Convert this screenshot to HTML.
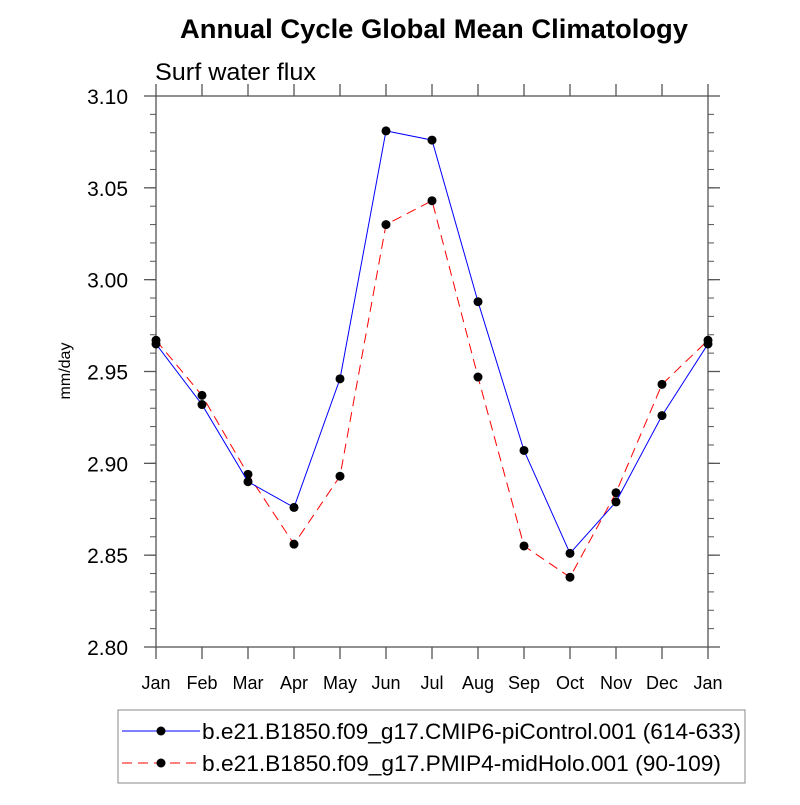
<!DOCTYPE html>
<html><head><meta charset="utf-8"><style>
html,body{margin:0;padding:0;background:#fff}
svg text{font-family:"Liberation Sans",Arial,sans-serif}
</style></head><body>
<svg id="chart" width="800" height="800" viewBox="0 0 800 800" xmlns="http://www.w3.org/2000/svg">
<text x="434" y="38" text-anchor="middle" font-size="27" font-weight="bold" textLength="508" lengthAdjust="spacingAndGlyphs">Annual Cycle Global Mean Climatology</text>
<text x="155" y="80" font-size="24" textLength="161" lengthAdjust="spacingAndGlyphs">Surf water flux</text>
<text transform="translate(70,371) rotate(-90)" text-anchor="middle" font-size="16">mm/day</text>
<g id="axes"></g>
<g id="series"></g>
<g>
<rect x="118" y="710" width="627" height="73" fill="none" stroke="#888" stroke-width="1"/>
<g>
<line x1="122" y1="731" x2="200" y2="731" stroke="#0000ff" stroke-width="1"/>
<circle cx="161" cy="731" r="4.5" fill="#000"/>
<text x="202" y="739" font-size="22" textLength="539" lengthAdjust="spacingAndGlyphs">b.e21.B1850.f09_g17.CMIP6-piControl.001 (614-633)</text>
</g>
<g>
<line x1="122" y1="763" x2="200" y2="763" stroke="#ff0000" stroke-width="1" stroke-dasharray="10,6"/>
<circle cx="161" cy="763" r="4.5" fill="#000"/>
<text x="202" y="771" font-size="22" textLength="519" lengthAdjust="spacingAndGlyphs">b.e21.B1850.f09_g17.PMIP4-midHolo.001 (90-109)</text>
</g>
</g>
</svg>
<script>
const months = ["Jan","Feb","Mar","Apr","May","Jun","Jul","Aug","Sep","Oct","Nov","Dec","Jan"];
const piControl = [2.965,2.932,2.890,2.876,2.946,3.081,3.076,2.988,2.907,2.851,2.879,2.926,2.965];
const midHolo = [2.967,2.937,2.894,2.856,2.893,3.030,3.043,2.947,2.855,2.838,2.884,2.943,2.967];
const yTicks = [2.80,2.85,2.90,2.95,3.00,3.05,3.10];
const yTickLabels = ["2.80","2.85","2.90","2.95","3.00","3.05","3.10"];

const L=156,R=708,T=96,B=647,yMin=2.80,yMax=3.10;
const NS="http://www.w3.org/2000/svg";
const xs=i=>L+(R-L)*i/(months.length-1);
const ys=v=>B-(v-yMin)/(yMax-yMin)*(B-T);
function mk(tag,attrs,parent){const e=document.createElementNS(NS,tag);for(const k in attrs)e.setAttribute(k,attrs[k]);parent.appendChild(e);return e;}
const ax=document.getElementById('axes');
const frame=mk('rect',{x:L,y:T,width:R-L,height:B-T,fill:'none',stroke:'#555','stroke-width':1.3},ax);


const tc='#555';
yTicks.forEach((v,i)=>{
  const y=ys(v);
  mk('line',{x1:L-12,y1:y,x2:L,y2:y,stroke:tc,'stroke-width':1.3},ax);
  mk('line',{x1:R,y1:y,x2:R+12,y2:y,stroke:tc,'stroke-width':1.3},ax);
  const t=mk('text',{x:L-28,y:y+8,'text-anchor':'end','font-size':21},ax);
  t.textContent=yTickLabels[i];
  
  
});
for(let v=yMin;v<yMax-0.001;v+=0.01){
  const y=ys(v);
  mk('line',{x1:L-6,y1:y,x2:L,y2:y,stroke:tc,'stroke-width':1},ax);
  mk('line',{x1:R,y1:y,x2:R+6,y2:y,stroke:tc,'stroke-width':1},ax);
}
months.forEach((m,i)=>{
  const x=xs(i);
  mk('line',{x1:x,y1:B,x2:x,y2:B+12,stroke:tc,'stroke-width':1.3},ax);
  mk('line',{x1:x,y1:T-12,x2:x,y2:T,stroke:tc,'stroke-width':1.3},ax);
  const t=mk('text',{x:x,y:B+42,'text-anchor':'middle','font-size':18},ax);
  t.textContent=m;
  
  
});
const sg=document.getElementById('series');
function drawSeries(vals,color,dash,name){
  const g=mk('g',{},sg);
  
  
  const p=mk('polyline',{points:vals.map((v,i)=>xs(i)+','+ys(v)).join(' '),fill:'none',stroke:color,'stroke-width':1,'stroke-dasharray':dash},g);
  
  
  vals.forEach((v,i)=>{
    const c=mk('circle',{cx:xs(i),cy:ys(v),r:4.5,fill:'#000'},g);
    
    
  });
}
drawSeries(midHolo,'#ff0000','10,6','midholo-series');
drawSeries(piControl,'#0000ff','none','picontrol-series');
</script>
</body></html>
